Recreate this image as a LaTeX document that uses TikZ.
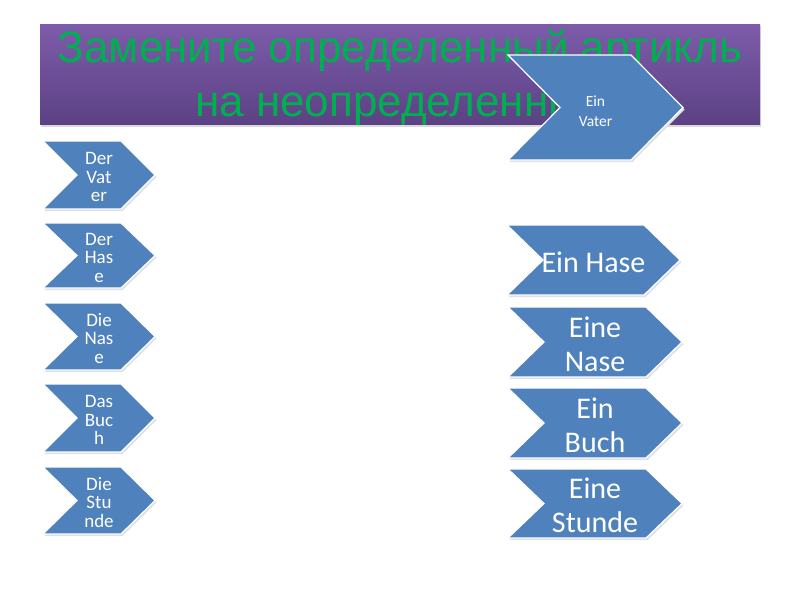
\documentclass[tikz,border=0pt]{standalone}
\usepackage{fontspec}
\setmainfont{Carlito}
\newfontfamily\titlefont{Liberation Sans}
\definecolor{chevblue}{RGB}{79,129,189}
\definecolor{titletop}{RGB}{125,92,170}
\definecolor{titlebot}{RGB}{92,65,132}
\definecolor{titlegreen}{RGB}{0,176,80}
\tikzset{
  chevron/.style={fill=chevblue, draw=white, line width=1.2pt, line join=miter},
  chevtext/.style={text=white, align=center, inner sep=0pt},
  titletext/.style={text=titlegreen, font=\titlefont\fontsize{44}{50}\selectfont, anchor=base, inner sep=0pt},
  smalltxt/.style={font=\fontsize{19}{18.5}\selectfont, yshift=-2pt},
  bigtxt/.style={font=\fontsize{30}{34}\selectfont, yshift=-2pt},
  tinytxt/.style={font=\fontsize{15.5}{20}\selectfont, yshift=-4pt},
}
\newcommand\chev[8]{%
  \fill[black!12] ({#2+1.5},{#3+2}) -- ({#4-#6+1.5},{#3+2}) -- ({#4+1.5},{(#3+#5)/2+2}) -- ({#4-#6+1.5},{#5+2}) -- ({#2+1.5},{#5+2}) -- ({#2+#6+1.5},{(#3+#5)/2+2}) -- cycle;
  \draw[chevron] (#2,#3) -- ({#4-#6},#3) -- (#4,{(#3+#5)/2}) -- ({#4-#6},#5) -- (#2,#5) -- ({#2+#6},{(#3+#5)/2}) -- cycle;
  \node[chevtext, #7] (#1) at ({(#2+#4)/2},{(#3+#5)/2}) {#8};}
\begin{document}
\begin{tikzpicture}[x=1pt,y=-1pt]
\useasboundingbox (0,0) rectangle (800,600);
\fill[white] (0,0) rectangle (800,600);
% title
\fill[black!15] (41,26) rectangle (761,126.5);
\shade[top color=titletop, bottom color=titlebot] (40,24) rectangle (760,124);
\node[titletext] (t1) at (400,62) {Замените определенный артикль};
\node[titletext] (t2) at (400,116) {на неопределенный};
% left chevrons
\chev{l1}{43}{141}{155}{209}{34}{smalltxt}{Der\\Vat\\er}
\chev{l2}{43}{223}{155}{288}{34}{smalltxt}{Der\\Has\\e}
\chev{l3}{43}{303}{155}{370}{34}{smalltxt}{Die\\Nas\\e}
\chev{l4}{43}{384}{155}{452}{34}{smalltxt}{Das\\Buc\\h}
\chev{l5}{43}{467}{155}{534}{34}{smalltxt}{Die\\Stu\\nde}
% right chevrons
\chev{r1}{508}{55}{683}{160}{52}{tinytxt}{Ein\\Vater}
\chev{r2}{507}{225}{680}{295}{36}{bigtxt}{Ein Hase}
\chev{r3}{508}{307}{682}{377}{36}{bigtxt}{Eine\\Nase}
\chev{r4}{508}{388}{682}{458}{36}{bigtxt}{Ein\\Buch}
\chev{r5}{508}{469}{682}{538}{36}{bigtxt}{Eine\\Stunde}
\end{tikzpicture}
\end{document}
